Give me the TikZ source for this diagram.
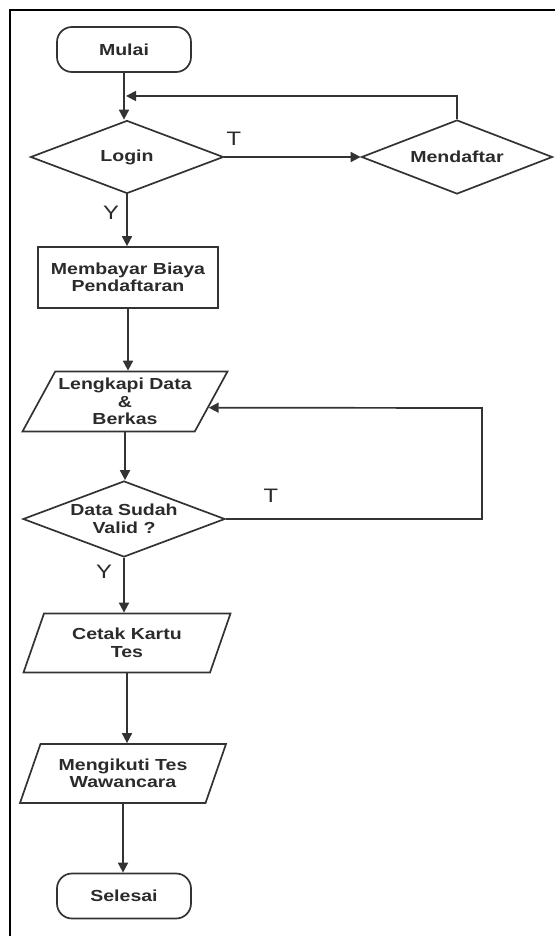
\documentclass[tikz,border=0pt]{standalone}
\usepackage{fontspec}
\setmainfont{Liberation Sans}[FakeStretch=1.2]
\newfontfamily\nodefont{Liberation Sans}[FakeStretch=1.22]
\usetikzlibrary{shapes.geometric,arrows.meta,calc}
\definecolor{linec}{HTML}{333333}
\definecolor{textc}{HTML}{2B2B2B}
\begin{document}
\begin{tikzpicture}[x=1pt,y=-1pt,
  base/.style={draw=linec, line width=1.7pt, text=textc, align=center, inner sep=0pt,
    font={\nodefont\bfseries\fontsize{16}{17.5}\selectfont}},
  term/.style={base, rectangle, rounded corners=15pt, minimum width=134pt, minimum height=45pt},
  proc/.style={base, rectangle, minimum width=180pt, minimum height=61pt},
  dec/.style={base, diamond, aspect=2.65},
  io/.style={base, trapezium, trapezium left angle=55, trapezium right angle=125,
    trapezium stretches body, minimum width=205pt, minimum height=60pt},
  arr/.style={draw=linec, line width=1.7pt, -{Triangle[length=10pt,width=10pt]}},
  lbl/.style={text=textc, inner sep=0pt, font={\nodefont\fontsize{19.5}{22}\selectfont}}
]
\useasboundingbox (0,0) rectangle (555,936);
% frame
\draw[line width=2pt, black] (9.5,936) -- (9.5,10) -- (555,10);

\node[term] (mulai) at (124,49.5) {Mulai};
\node[dec, minimum width=193pt, minimum height=73pt] (login) at (127,157) {Login};
\node[dec, minimum width=191pt, minimum height=74pt] (mend) at (457,157) {Mendaftar};
\node[proc] (bayar) at (128,277.5) {Membayar Biaya\\Pendaftaran};
\node[io] (lk) at (125,401.5) {Lengkapi Data\\\&\\Berkas};
\node[dec, minimum width=202pt, minimum height=76pt] (ds) at (124,519) {Data Sudah\\Valid ?};
\node[io, minimum width=207pt, minimum height=59pt] (cetak) at (127,643) {Cetak Kartu\\Tes};
\node[io, minimum width=206pt, minimum height=59pt] (ikut) at (123,773.5) {Mengikuti Tes\\Wawancara};
\node[term] (selesai) at (124,896) {Selesai};

\coordinate (j) at (126,96);
\coordinate (loopR) at (482,408);
\coordinate (lkR) at ($(lk.top right corner)!0.6!(lk.bottom right corner)$);

\draw[arr] (mulai.south) -- (mulai.south |- login.north);
\draw[arr] (login.east) -- (mend.west);
\draw[arr] (mend.north) |- (j);
\draw[arr] (login.south) -- (login.south |- bayar.north);
\draw[arr] (bayar.south) -- (bayar.south |- lk.north);
\draw[arr] (lk.south) -- (lk.south |- ds.north);
\draw[arr] (ds.east) -| (loopR) -- (lkR);
\draw[arr] (ds.south) -- (ds.south |- cetak.north);
\draw[arr] (cetak.south) -- (cetak.south |- ikut.north);
\draw[arr] (ikut.south) -- (ikut.south |- selesai.north);

\node[lbl] (t1) at (234,139) {T};
\node[lbl] (y1) at (111,212.5) {Y};
\node[lbl] (t2) at (271,496) {T};
\node[lbl] (y2) at (104,572) {Y};
\end{tikzpicture}
\end{document}
